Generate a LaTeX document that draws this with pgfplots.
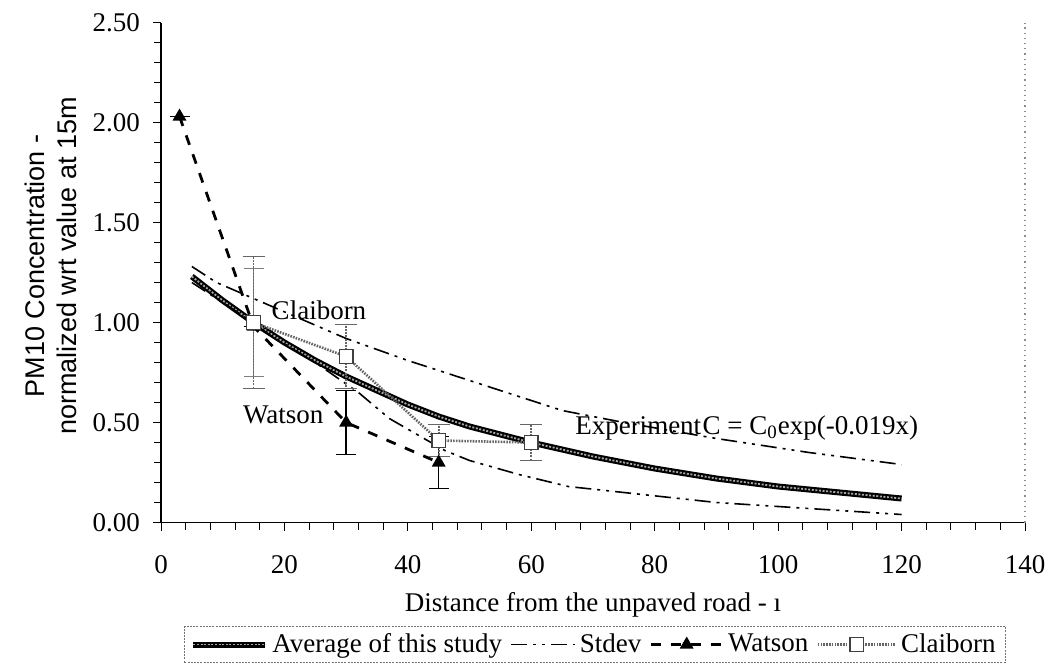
\documentclass[border=0pt]{standalone}
\usepackage{pgfplots}
\pgfplotsset{compat=1.18}
\usepackage{fontspec}
\setmainfont{Liberation Serif}
\newfontfamily\arial{Liberation Sans}

\pgfplotsset{
  leglen/.style={legend image code/.code={\draw[mark repeat=2, mark phase=2, ##1] plot coordinates {(0pt,0pt) (#1/2,0pt) (#1,0pt)};}},
}

\pgfplotstableread{
x y
5 1.23
10 1.11
15 1.00
20 0.90
25 0.81
30 0.73
35 0.66
40 0.59
45 0.53
50 0.48
60 0.40
70 0.33
80 0.27
90 0.22
100 0.18
110 0.15
120 0.12
}\avgdata

\pgfplotstableread{
x y
5 1.28
9 1.20
15 1.12
24 1.00
30 0.92
40 0.81
47 0.74
51 0.70
65 0.56
75 0.50
90 0.42
105 0.35
120 0.29
}\upperdata

\pgfplotstableread{
x y
5 1.20
12 1.06
18 0.93
25 0.80
32 0.65
37 0.52
46 0.36
50 0.31
58 0.24
66 0.18
75 0.15
90 0.10
105 0.07
120 0.04
}\lowerdata

\pgfplotstableread{
x y e
3 2.03 0
15 0.98 0
30 0.50 0.16
45 0.30 0.13
}\watsondata

\pgfplotstableread{
x y e
15 1.00 0.33
30 0.83 0.16
45 0.41 0.08
60 0.40 0.09
}\claiborndata

\pgfplotstableread{
x y e
15 1.00 0.27
}\avgerr

\begin{document}
\begin{tikzpicture}
\begin{axis}[
  name=ax,
  scale only axis,
  width=432pt, height=250pt,
  xmin=0, xmax=140, ymin=0, ymax=2.5,
  axis x line*=bottom, axis y line*=left,
  axis line style={black, line width=0.6pt},
  xtick={0,20,...,140}, ytick={0,0.5,...,2.5},
  minor x tick num=4, minor y tick num=4,
  tick align=outside,
  major tick length=4pt, minor tick length=3.5pt,
  tick style={black, line width=0.5pt},
  /pgf/number format/assume math mode=true,
  yticklabel style={/pgf/number format/fixed, /pgf/number format/fixed zerofill, /pgf/number format/precision=2, font=\fontsize{13.5}{16}\selectfont, xshift=-3pt},
  xticklabel style={font=\fontsize{13.5}{16}\selectfont, yshift=-9pt},
  xlabel={Distance from the unpaved road - \i},
  xlabel style={font=\fontsize{13.5}{16}\selectfont, at={(rel axis cs:0.5,-0.165)}, anchor=center},
  ylabel={PM10 Concentration -\\normalized wrt value at 15m},
  ylabel style={font=\arial\fontsize{13.5}{16}\selectfont, align=center, at={(rel axis cs:-0.127,0.513)}, anchor=center},
  legend columns=4,
  legend style={at={(rel axis cs:0.0266,-0.207)}, anchor=north west,
    draw=black!55, dash pattern=on 1pt off 0.6pt, line width=0.5pt,
    font=\fontsize{13.5}{16}\selectfont, inner xsep=3pt, inner ysep=1.5pt,
    /tikz/every even column/.append style={column sep=2pt}},
  legend cell align=left,
  clip=false,
]
\draw[black!45, dotted, line width=0.6pt] (rel axis cs:1,0) -- (rel axis cs:1,1);

\addplot[black, line width=3pt, postaction={draw, black!35, line width=0.9pt, dash pattern=on 1pt off 0.8pt}, leglen=36pt] table[x=x,y=y] {\avgdata};
\addlegendentry{Average of this study}

\addplot[black, line width=0.8pt, dash pattern=on 8pt off 3pt on 1.5pt off 3pt on 1.5pt off 3pt, leglen=32pt] table[x=x,y=y] {\upperdata};
\addlegendentry{Stdev}
\addplot[forget plot, black, line width=0.8pt, dash pattern=on 8pt off 3pt on 1.5pt off 3pt on 1.5pt off 3pt] table[x=x,y=y] {\lowerdata};

\addplot[forget plot, draw=none, mark=none, error bars/.cd, y dir=both, y explicit,
  error bar style={black!50, line width=0.7pt},
  error mark options={rotate=90, mark size=5pt, black!50, line width=0.7pt}]
  table[x=x,y=y,y error=e] {\avgerr};

\addplot[black, line width=1.4pt, dash pattern=on 5pt off 5pt, mark=triangle*, mark size=2.6pt,
  mark options={solid, fill=black}, leglen=36pt,
  error bars/.cd, y dir=both, y explicit,
  error bar style={black, line width=0.7pt, solid},
  error mark options={rotate=90, mark size=5pt, black, line width=0.7pt, solid}]
  table[x=x,y=y,y error=e] {\watsondata};
\addlegendentry{Watson}

\addplot[black!60, line width=1.3pt, dash pattern=on 0.8pt off 0.6pt, mark=square*, mark size=3.4pt,
  mark options={solid, fill=white, draw=black!75, line width=0.6pt}, leglen=39pt,
  error bars/.cd, y dir=both, y explicit,
  error bar style={black!60, line width=0.8pt, dash pattern=on 1pt off 0.6pt},
  error mark options={rotate=90, mark size=5.5pt, black!60, line width=0.7pt, solid}]
  table[x=x,y=y,y error=e] {\claiborndata};
\addlegendentry{Claiborn}

\node[font=\fontsize{13.5}{16}\selectfont] at (axis cs:25.6,1.06) {Claiborn};
\node[font=\fontsize{13.5}{16}\selectfont] at (axis cs:19.8,0.54) {Watson};
\node[font=\fontsize{13.5}{16}\selectfont, anchor=base east, inner sep=0pt] at (axis cs:87.6,0.44) {Experiment};
\node[font=\fontsize{13.5}{16}\selectfont, anchor=base west, inner sep=0pt] at (axis cs:87.7,0.44) {C = C\textsubscript{0}exp(-0.019x)};
\end{axis}
\pgfresetboundingbox
\path ([shift={(-80.5pt,-74.25pt)}]ax.south west) rectangle ([shift={(13.5pt,11.25pt)}]ax.north east);
\end{tikzpicture}
\end{document}
